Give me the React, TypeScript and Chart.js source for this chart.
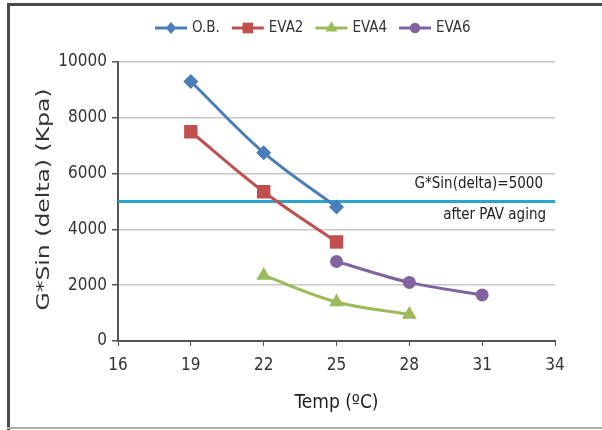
import React, { useEffect, useRef } from "react";
import { Chart, registerables } from "chart.js";

Chart.register(...registerables);

const seriesNames = ["O.B.", "EVA2", "EVA4", "EVA6"];
const obTemps = [19, 22, 25];
const obValues = [9300, 6750, 4800];
const eva2Temps = [19, 22, 25];
const eva2Values = [7500, 5350, 3550];
const eva4Temps = [22, 25, 28];
const eva4Values = [2350, 1400, 950];
const eva6Temps = [25, 28, 31];
const eva6Values = [2850, 2100, 1650];
const limitTemps = [16, 34];
const limitValue = 5000;
const limitLabel1 = "G*Sin(delta)=5000";
const limitLabel2 = "after PAV aging";
const xTitle = "Temp (ºC)";
const yTitle = "G*Sin (delta) (Kpa)";

const NARROW = "'Liberation Sans Narrow', 'DejaVu Sans Condensed', 'Liberation Sans', sans-serif";

const colors = ["#4a7ebb", "#c0504d", "#9bbb59", "#8064a2"];
const shapes = ["rectRot", "rect", "triangle", "circle"];
const radii = [7.5, 9.5, 8.5, 6.5];

function pts(xs: number[], ys: number[]) {
  return xs.map((x, i) => ({ x, y: ys[i] }));
}

function drawShape(ctx: CanvasRenderingContext2D, shape: string, x: number, y: number, r: number, color: string) {
  ctx.save();
  ctx.fillStyle = color;
  ctx.beginPath();
  if (shape === "rectRot") {
    ctx.moveTo(x, y - r);
    ctx.lineTo(x + r * 0.85, y);
    ctx.lineTo(x, y + r);
    ctx.lineTo(x - r * 0.85, y);
    ctx.closePath();
  } else if (shape === "rect") {
    const s = r * 0.7;
    ctx.rect(x - s, y - s, 2 * s, 2 * s);
  } else if (shape === "triangle") {
    ctx.moveTo(x, y - r);
    ctx.lineTo(x + r * 0.87, y + r * 0.5);
    ctx.lineTo(x - r * 0.87, y + r * 0.5);
    ctx.closePath();
  } else {
    ctx.arc(x, y, r, 0, Math.PI * 2);
  }
  ctx.fill();
  ctx.restore();
}

const framePlugin = {
  id: "frame",
  beforeDraw(chart: any) {
    const ctx = chart.ctx as CanvasRenderingContext2D;
    ctx.save();
    ctx.fillStyle = "#ffffff";
    ctx.fillRect(0, 0, chart.width, chart.height);
    ctx.fillStyle = "#4a4a4a";
    ctx.fillRect(8, 3, chart.width - 8, 3);
    ctx.fillRect(7, 3, 3, chart.height - 3);
    ctx.fillStyle = "#b0b0b0";
    ctx.fillRect(7, 427, chart.width - 7, 2);
    ctx.restore();
  },
};

const legendPlugin = {
  id: "customLegend",
  afterDraw(chart: any) {
    const ctx = chart.ctx as CanvasRenderingContext2D;
    ctx.save();
    ctx.font = `15px ${NARROW}`;
    ctx.textBaseline = "middle";
    let x = 155;
    const y = 28;
    seriesNames.forEach((name, i) => {
      ctx.strokeStyle = colors[i];
      ctx.lineWidth = 3;
      ctx.beginPath();
      ctx.moveTo(x, y);
      ctx.lineTo(x + 32, y);
      ctx.stroke();
      drawShape(ctx, shapes[i], x + 16, y, radii[i] * 0.8, colors[i]);
      ctx.fillStyle = "#333333";
      ctx.fillText(name, x + 37, y);
      x = x + 37 + ctx.measureText(name).width + 12;
    });
    ctx.restore();
  },
};

const annotationPlugin = {
  id: "annotations",
  afterDatasetsDraw(chart: any) {
    const ctx = chart.ctx as CanvasRenderingContext2D;
    const yPix = chart.scales.y.getPixelForValue(limitValue);
    const { right, top, bottom } = chart.chartArea;
    ctx.save();
    ctx.font = `15px ${NARROW}`;
    ctx.fillStyle = "#222222";
    ctx.textAlign = "right";
    ctx.textBaseline = "middle";
    ctx.fillText(limitLabel1, right - 12, yPix - 17);
    ctx.fillText(limitLabel2, right - 9, yPix + 14);
    ctx.restore();

    // y axis title (horizontally stretched like the reference)
    ctx.save();
    ctx.font = "17.5px 'DejaVu Sans', sans-serif";
    ctx.fillStyle = "#333333";
    ctx.textAlign = "center";
    ctx.textBaseline = "middle";
    ctx.translate(44, (top + bottom) / 2 - 2);
    ctx.rotate(-Math.PI / 2);
    const w = ctx.measureText(yTitle).width;
    ctx.scale(222 / w, 1);
    ctx.fillText(yTitle, 0, 0);
    ctx.restore();
  },
};

export default function App() {
  const ref = useRef<HTMLCanvasElement | null>(null);
  useEffect(() => {
    if (!ref.current) return;
    const mk = (i: number, xs: number[], ys: number[]) => ({
      label: seriesNames[i],
      data: pts(xs, ys),
      borderColor: colors[i],
      backgroundColor: colors[i],
      borderWidth: 3,
      pointStyle: shapes[i],
      pointRadius: radii[i],
      pointBorderWidth: 0,
      pointBackgroundColor: colors[i],
      tension: 0.35,
      order: 1,
    });
    const chart = new Chart(ref.current, {
      type: "line",
      data: {
        datasets: [
          {
            label: "limit",
            data: pts(limitTemps, limitTemps.map(() => limitValue)),
            borderColor: "#2ba6cb",
            borderWidth: 3,
            pointRadius: 0,
            tension: 0,
            order: 5,
          } as any,
          mk(0, obTemps, obValues),
          mk(1, eva2Temps, eva2Values),
          mk(2, eva4Temps, eva4Values),
          mk(3, eva6Temps, eva6Values),
        ],
      },
      options: {
        responsive: false,
        animation: false,
        layout: { padding: { top: 62, right: 47, bottom: 0, left: 0 } },
        plugins: { legend: { display: false }, tooltip: { enabled: false } },
        scales: {
          x: {
            type: "linear",
            min: 16,
            max: 34,
            ticks: { stepSize: 3, color: "#333", font: { family: NARROW, size: 17 }, padding: 9, callback: (v: any) => String(v) },
            grid: { drawOnChartArea: false, drawTicks: true, tickLength: 5, tickColor: "#555", color: "#555" },
            border: { color: "#555", width: 2 },
            title: { display: true, text: xTitle, color: "#222", font: { family: NARROW, size: 19 }, padding: { top: 0, bottom: 16 } },
            afterFit(scale: any) { scale.height = 89; },
          },
          y: {
            min: 0,
            max: 10000,
            ticks: { stepSize: 2000, color: "#333", font: { family: NARROW, size: 17 }, padding: 5, callback: (v: any) => String(v) },
            grid: { color: "#c8c8c8", lineWidth: 1.5, drawTicks: true, tickLength: 6, tickColor: "#555" },
            border: { color: "#555", width: 2 },
            title: { display: false },
            afterFit(scale: any) { scale.width = 118; },
          },
        },
      },
      plugins: [framePlugin, legendPlugin, annotationPlugin],
    } as any);
    return () => chart.destroy();
  }, []);
  return (
    <div style={{ position: "absolute", left: 0, top: 0, width: 602, height: 430 }}>
      <canvas ref={ref} width={602} height={430} style={{ display: "block" }} />
    </div>
  );
}
